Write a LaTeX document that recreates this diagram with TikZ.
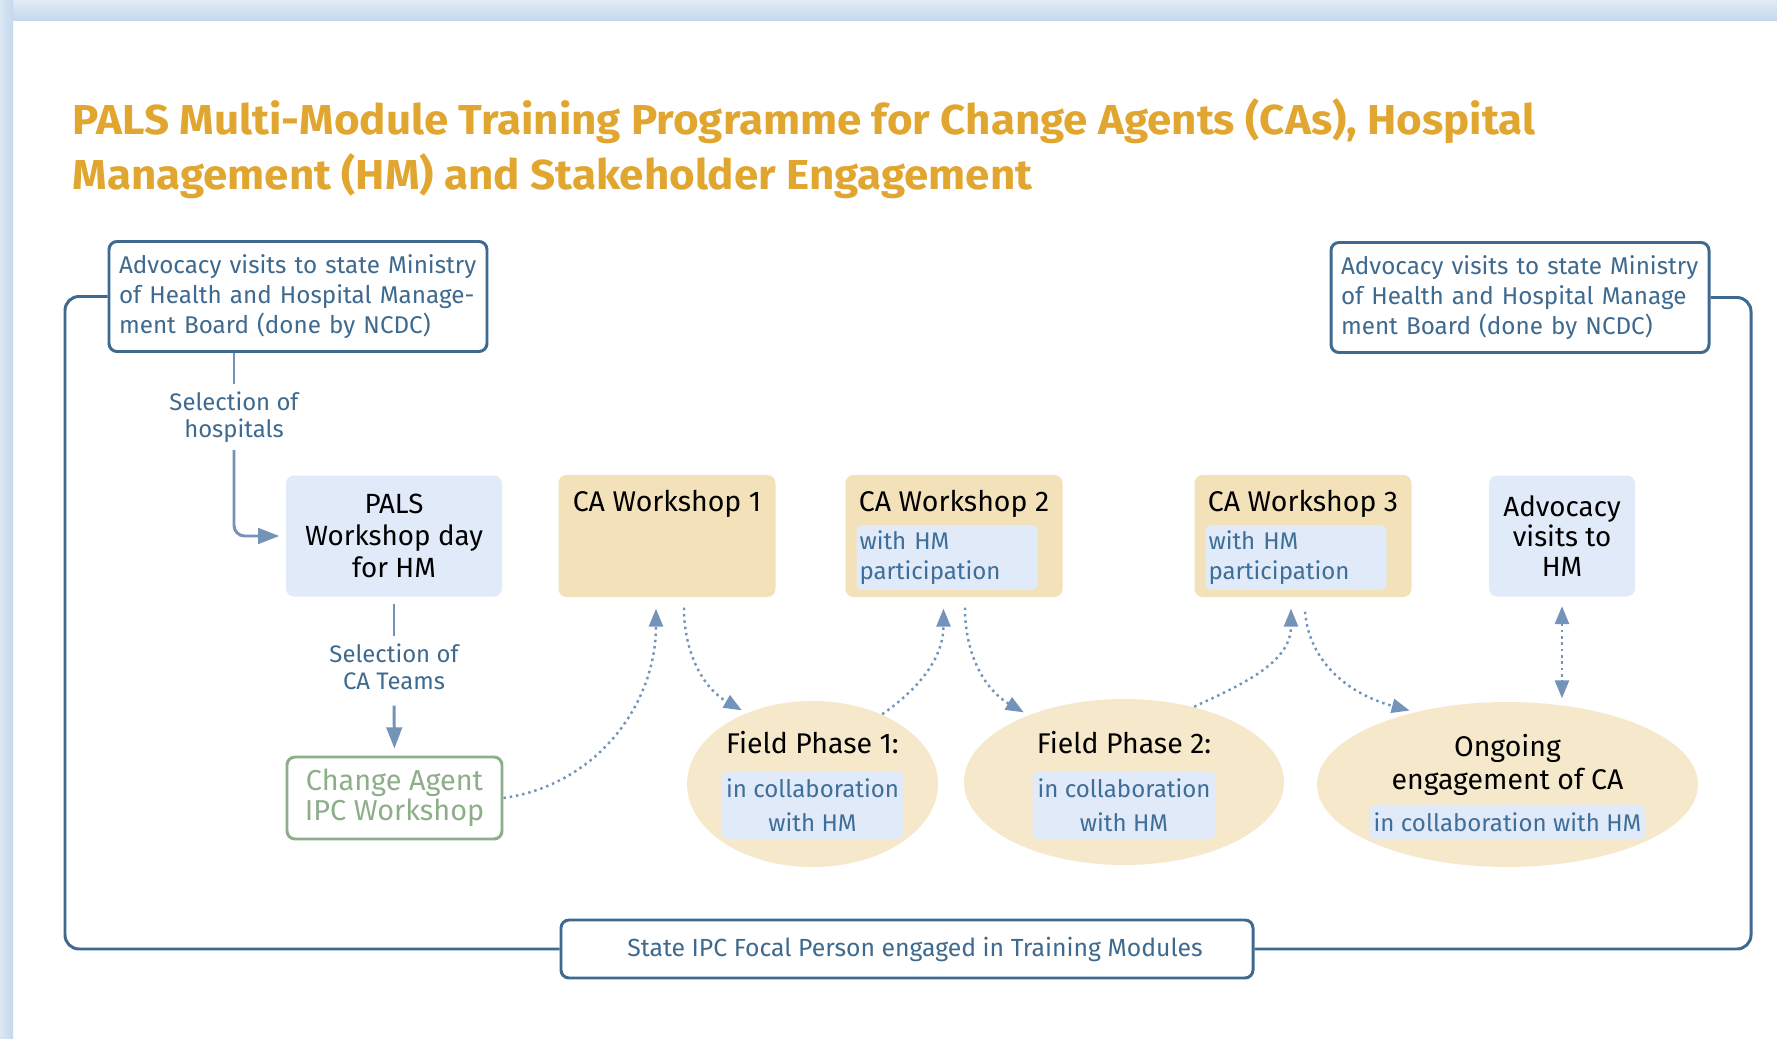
\documentclass[tikz,border=0pt]{standalone}
\usepackage{fontspec}
\setmainfont{Fira Sans}
\newfontfamily\titlefont[FakeStretch=1.05]{Fira Sans}
\usetikzlibrary{positioning,arrows.meta,shapes.geometric}

\definecolor{titlegold}{HTML}{E1A630}
\definecolor{navyline}{HTML}{3E6A8F}
\definecolor{notetext}{HTML}{3F6E98}
\definecolor{arrowblue}{HTML}{7394B8}
\definecolor{paleblue}{HTML}{E0EAF8}
\definecolor{tanbox}{HTML}{F3E1BA}
\definecolor{tanell}{HTML}{F6E8CB}
\definecolor{sagegreen}{HTML}{8DAE89}
\definecolor{stripA}{HTML}{E3EBF6}
\definecolor{stripB}{HTML}{C4D8EE}
\definecolor{stripC}{HTML}{DCE7F4}

\tikzset{
  titletext/.style={inner sep=0pt, align=left, text=titlegold,
    font=\titlefont\bfseries\fontsize{11.9}{15.65}\selectfont},
  advbox/.style={draw=navyline, line width=0.85pt, rounded corners=2.3pt, fill=white,
    text=navyline, align=left, text width=3.58cm, inner xsep=0.10cm,
    minimum height=1.1cm, font=\fontsize{6.9}{8.55}\selectfont},
  focalbox/.style={draw=navyline, line width=0.85pt, rounded corners=2.3pt, fill=white,
    text=navyline, minimum width=6.92cm, minimum height=0.58cm,
    font=\fontsize{7.05}{8.5}\selectfont},
  hmbox/.style={fill=paleblue, rounded corners=2.3pt, minimum width=2.16cm,
    minimum height=1.21cm, align=center, font=\fontsize{7.9}{9.2}\selectfont},
  wsbox/.style={fill=tanbox, rounded corners=2.3pt, minimum width=2.17cm, minimum height=1.22cm},
  wstitle/.style={inner sep=0pt, font=\fontsize{8.1}{9.4}\selectfont},
  note/.style={fill=paleblue, rounded corners=1.7pt, text=notetext,
    inner xsep=0.03cm, inner ysep=0.055cm, font=\fontsize{6.85}{8.55}\selectfont},
  ipcbox/.style={draw=sagegreen, line width=0.85pt, rounded corners=2.3pt, text=sagegreen,
    minimum width=2.15cm, minimum height=0.82cm, align=center,
    font=\fontsize{8.2}{8.5}\selectfont},
  phase/.style={ellipse, fill=tanell, inner sep=0pt},
  steplabel/.style={text=navyline, align=center, inner sep=0.07cm,
    font=\fontsize{6.8}{7.7}\selectfont},
  loopline/.style={draw=navyline, line width=0.85pt, rounded corners=4pt},
  conn/.style={draw=arrowblue, line width=0.85pt},
  conntip/.style={-{Triangle[length=6pt,width=4.4pt]}},
  dotarrow/.style={draw=arrowblue, line width=0.7pt, dash pattern=on 0.7pt off 1.1pt,
    -{Triangle[length=5.1pt,width=4pt]}}
}

\begin{document}
\begin{tikzpicture}
\useasboundingbox (0,0) rectangle (17.77,10.38);
% ---- page and window edge ----
\fill[white] (0,0) rectangle (17.77,10.38);
\shade[top color=stripA, bottom color=stripB] (0,10.18) rectangle (17.77,10.38);
\shade[left color=stripC, right color=stripB] (0,0) rectangle (0.13,10.38);

% ---- heading ----
\node[titletext, anchor=north west] (title) at (0.72,9.40)
  {PALS Multi-Module Training Programme for Change Agents (CAs), Hospital\\
   Management (HM) and Stakeholder Engagement};

% ---- advocacy boxes and the focal person loop ----
\node[advbox] (advL) at (2.98,7.415)
  {Advocacy visits to state Ministry\\of Health and Hospital Manage-\\ment Board (done by NCDC)};
\node[advbox] (advR) at (15.20,7.405)
  {Advocacy visits to state Ministry\\of Health and Hospital Manage\\ment Board (done by NCDC)};
\node[focalbox] (focal) at (9.07,0.89) {\hspace*{0.16cm}State IPC Focal Person engaged in Training Modules};
\coordinate (loopL) at (0.65,0);
\coordinate (loopR) at (17.51,0);
\draw[loopline] (advL.west) -| (loopL |- focal.west) -- (focal.west);
\draw[loopline] (advR.east) -| (loopR |- focal.east) -- (focal.east);

% ---- main row ----
\node[hmbox] (pals) at (3.94,5.02) {PALS\\Workshop day\\for HM};
\foreach \n/\x in {1/6.67,2/9.54,3/13.03}{
  \node[wsbox] (ws\n) at (\x,5.02) {};
  \node[wstitle, below=0.15cm of ws\n.north] (ws\n t) {CA Workshop \n};
}
\foreach \n in {2,3}
  \node[note, align=left, text width=1.75cm, anchor=north west] (ws\n n)
    at ([xshift=0.11cm,yshift=-0.5cm]ws\n.north west) {with HM\\participation};
\node[hmbox, minimum width=1.46cm, font=\fontsize{7.9}{8.6}\selectfont] (advHM) at (15.62,5.02)
  {Advocacy\\visits to\\HM};

% ---- lower row ----
\node[ipcbox] (cai) at (3.945,2.40) {Change Agent\\IPC Workshop};
\node[phase, minimum width=2.51cm, minimum height=1.66cm] (fp1) at (8.125,2.54) {};
\node[phase, minimum width=3.20cm, minimum height=1.66cm] (fp2) at (11.24,2.56) {};
\node[phase, minimum width=3.81cm, minimum height=1.65cm] (ong) at (15.075,2.535) {};
\node[wstitle, anchor=base] (fp1t) at ([yshift=0.31cm]fp1.center) {Field Phase 1:};
\node[wstitle, anchor=base] (fp2t) at ([yshift=0.29cm]fp2.center) {Field Phase 2:};
\node[note, align=center, minimum width=1.82cm, inner ysep=0.075cm,
  font=\fontsize{6.85}{9.4}\selectfont, anchor=north]
  (fp1n) at ([yshift=0.13cm]fp1.center) {in collaboration\\with HM};
\node[note, align=center, minimum width=1.83cm, inner ysep=0.075cm,
  font=\fontsize{6.85}{9.4}\selectfont, anchor=north]
  (fp2n) at ([yshift=0.11cm]fp2.center) {in collaboration\\with HM};
\node[wstitle, align=center, anchor=north] (ongt) at ([yshift=0.505cm]ong.center)
  {Ongoing\\engagement of CA};
\node[note, minimum width=2.76cm, inner ysep=0.08cm, anchor=north]
  (ongn) at ([yshift=-0.195cm]ong.center) {in collaboration with HM};

% ---- selection steps ----
\node[steplabel] (selH) at (2.34,6.21) {Selection of\\hospitals};
\node[steplabel] (selCA) at (3.94,3.71) {Selection of\\CA Teams};
\draw[conn] (advL.south -| selH.north) -- (selH.north);
\draw[conn, conntip, rounded corners=3pt, shorten >=0.6mm] (selH.south) |- (pals.west);
\draw[conn, shorten <=0.7mm] (pals.south) -- (selCA.north);
\draw[conn, conntip, shorten <=0.8mm, shorten >=0.7mm] (selCA.south) -- (cai.north);

% ---- workshop / field phase cycle ----
\draw[dotarrow] (cai.east) to[out=8,in=-90] ([xshift=-1.1mm,yshift=-1.1mm]ws1.south);
\draw[dotarrow, shorten >=0.5mm] ([xshift=1.7mm,yshift=-1mm]ws1.south) to[out=-90,in=150] (fp1.133);
\draw[dotarrow] (fp1.45) to[out=35,in=-90] ([xshift=-1.05mm,yshift=-1.1mm]ws2.south);
\draw[dotarrow, shorten >=0.5mm] ([xshift=1.1mm,yshift=-1mm]ws2.south) to[out=-90,in=150] (fp2.145);
\draw[dotarrow] (fp2.47) to[out=25,in=-90] ([xshift=-1.2mm,yshift=-1.1mm]ws3.south);
\draw[dotarrow, shorten >=0.5mm] ([xshift=0.2mm,yshift=-1.4mm]ws3.south) to[out=-85,in=165] (ong.142);
\draw[dotarrow, {Triangle[length=5.1pt,width=4pt]}-{Triangle[length=5.1pt,width=4pt]}]
  ([yshift=-0.9mm]advHM.south) -- ([yshift=0.3mm]advHM.south |- ong.north);
\end{tikzpicture}
\end{document}
